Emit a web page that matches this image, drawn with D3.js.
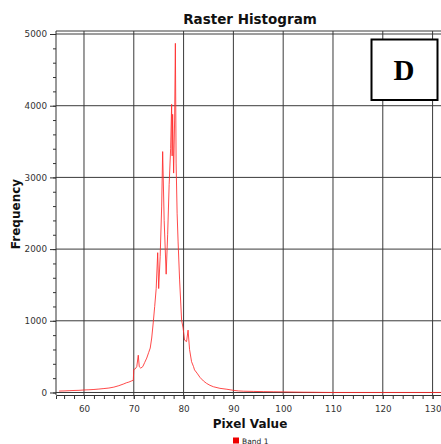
<!DOCTYPE html>
<html><head><meta charset="utf-8">
<script src="https://cdn.jsdelivr.net/npm/d3@7"></script>
<style>html,body{margin:0;padding:0;background:#fff;overflow:hidden}</style>
</head><body>
<script>
const title = "Raster Histogram";
const xLabel = "Pixel Value";
const yLabel = "Frequency";
const seriesName = "Band 1";
const panelLetter = "D";
const xTicks = [60, 70, 80, 90, 100, 110, 120, 130];
const yTicks = [0, 1000, 2000, 3000, 4000, 5000];
const pixelValues = [55.0,56,57,58,59,60,61,62,63,64,65,66,67,68,68.5,69,69.5,69.9,70.0,70.3,70.6,70.9,71.1,71.4,71.8,72.2,72.6,73.0,73.3,73.6,73.9,74.2,74.5,74.8,75.0,75.3,75.6,75.8,76.1,76.5,76.8,77.1,77.4,77.6,77.7,77.8,78.0,78.2,78.35,78.5,78.7,78.9,79.2,79.6,79.9,80.2,80.6,80.9,81.2,81.6,82.0,82.2,82.7,83.3,84.0,84.6,85.3,86.0,87.3,88.7,90,91,92,94,96,98,100,102,104,106,108,110,120,132];
const frequency =   [20,22,25,28,30,35,38,42,48,55,62,75,95,120,135,145,160,170,320,330,360,520,360,340,360,420,480,560,620,760,970,1200,1450,1950,1450,1900,2600,3360,2400,1650,2200,2900,3400,4020,3300,3880,3060,3800,4870,3200,2500,2100,1570,1010,900,730,710,870,600,430,360,315,270,210,160,128,100,80,58,45,30,22,18,15,12,10,8,6,4,3,1,0,0,0];

(function () {
const W = 441, H = 444;
const svg = d3.select("body").append("svg").attr("width", W).attr("height", H)
  .style("font-family", "'DejaVu Sans', sans-serif");

const pL = 56, pT = 31, pR = 441, pB = 395;
const x = d3.scaleLinear().domain([54.38, 131.69]).range([pL, pR]);
const y = d3.scaleLinear().domain([-35, 5042]).range([pB, pT]);

// grid
const grid = svg.append("g").attr("stroke", "#3a3a3a").attr("stroke-width", 1);
xTicks.forEach(t => grid.append("line").attr("x1", x(t)).attr("x2", x(t)).attr("y1", pT).attr("y2", pB));
yTicks.forEach(t => grid.append("line").attr("x1", pL).attr("x2", pR).attr("y1", y(t)).attr("y2", y(t)));
grid.append("line").attr("x1", pL).attr("x2", pR).attr("y1", pT).attr("y2", pT);

// data line
svg.append("defs").append("clipPath").attr("id", "c").append("rect")
  .attr("x", pL).attr("y", pT).attr("width", pR - pL).attr("height", pB - pT);
const pts = pixelValues.map((v, i) => [v, frequency[i]]);
svg.append("path").datum(pts).attr("clip-path", "url(#c)")
  .attr("fill", "none").attr("stroke", "#ff2a2a").attr("stroke-opacity", 0.85).attr("stroke-width", 1)
  .attr("d", d3.line().x(d => x(d[0])).y(d => y(d[1])));

// axes
const xMinor = d3.range(56, 132, 2);
const xAxis = svg.append("g").attr("transform", `translate(0,${pB})`)
  .call(d3.axisBottom(x).tickValues(xMinor).tickSize(4).tickFormat(""));
xAxis.select(".domain").attr("stroke", "#333");
xAxis.selectAll(".tick line").attr("stroke", "#333");
const xLab = svg.append("g").attr("transform", `translate(0,${pB})`)
  .call(d3.axisBottom(x).tickValues(xTicks).tickSize(4).tickPadding(7).tickFormat(d3.format("d")));
xLab.select(".domain").remove();
xLab.selectAll(".tick line").attr("stroke", "#333");
xLab.selectAll("text").attr("font-size", 8.8).attr("fill", "#333").attr("font-family", "'DejaVu Sans', sans-serif");

const yMinor = d3.range(0, 5001, 200);
const yAxis = svg.append("g").attr("transform", `translate(${pL},0)`)
  .call(d3.axisLeft(y).tickValues(yMinor).tickSize(3).tickFormat(""));
yAxis.select(".domain").attr("stroke", "#333").attr("d", `M0,${pT}V${pB}`);
yAxis.selectAll(".tick line").attr("stroke", "#333");
const yLab = svg.append("g").attr("transform", `translate(${pL},0)`)
  .call(d3.axisLeft(y).tickValues(yTicks).tickSize(6).tickPadding(3).tickFormat(d3.format("d")));
yLab.select(".domain").remove();
yLab.selectAll(".tick line").attr("stroke", "#333");
yLab.selectAll("text").attr("font-size", 8.8).attr("fill", "#333").attr("font-family", "'DejaVu Sans', sans-serif");

// titles
svg.append("text").attr("x", 250).attr("y", 23.5).attr("text-anchor", "middle")
  .attr("font-size", 13.5).attr("font-weight", "bold").attr("fill", "#111").text(title);
svg.append("text").attr("x", 250).attr("y", 427.5).attr("text-anchor", "middle")
  .attr("font-size", 12).attr("font-weight", "bold").attr("fill", "#111").text(xLabel);
svg.append("text").attr("transform", "translate(20,214) rotate(-90)").attr("text-anchor", "middle")
  .attr("font-size", 12).attr("font-weight", "bold").attr("fill", "#111").text(yLabel);

// legend
svg.append("rect").attr("x", 233).attr("y", 437.5).attr("width", 6).attr("height", 6).attr("fill", "#ee0000");
svg.append("text").attr("x", 242).attr("y", 443.5).attr("font-size", 7.5).attr("fill", "#222").text(seriesName);

// panel letter box
svg.append("rect").attr("x", 371.5).attr("y", 39.5).attr("width", 66).attr("height", 60.5)
  .attr("fill", "#fff").attr("stroke", "#000").attr("stroke-width", 2);
svg.append("text").attr("x", 404).attr("y", 79.5).attr("text-anchor", "middle")
  .attr("font-family", "'Liberation Serif', 'DejaVu Serif', serif").attr("font-weight", "bold")
  .attr("font-size", 29).attr("fill", "#000").text(panelLetter);
})();
</script>
</body></html>
